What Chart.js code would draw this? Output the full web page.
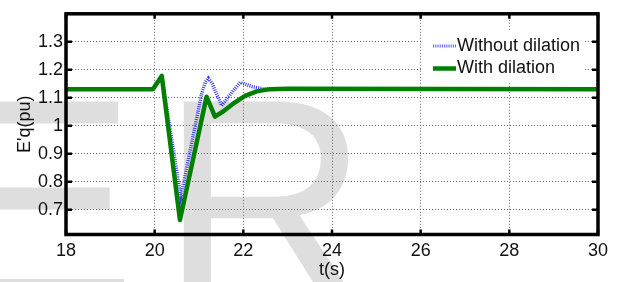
<!DOCTYPE html>
<html>
<head>
<meta charset="utf-8">
<script src="https://cdn.jsdelivr.net/npm/chart.js@4.4.1/dist/chart.umd.min.js"></script>
<style>
  html, body { margin: 0; padding: 0; background: #fff; }
  canvas { display: block; }
</style>
</head>
<body>
<canvas id="chart" width="623" height="282"></canvas>
<script>
// values
const t_without = [18, 19.96, 20.16, 20.59, 21.06, 21.14, 21.21, 21.3, 21.51, 21.72, 21.93, 22.2, 22.45, 23, 30];
const e_without = [1.131, 1.131, 1.178, 0.746, 1.115, 1.155, 1.17, 1.15, 1.072, 1.115, 1.155, 1.14, 1.132, 1.131, 1.131];

const t_with = [18, 19.96, 20.16, 20.57, 21.17, 21.36, 21.55, 21.77, 22.04, 22.3, 22.6, 23, 30];
const e_with = [1.131, 1.131, 1.178, 0.664, 1.104, 1.033, 1.052, 1.079, 1.107, 1.123, 1.131, 1.132, 1.131];

const x_ticks = [18, 20, 22, 24, 26, 28, 30];
const y_ticks = [0.7, 0.8, 0.9, 1.0, 1.1, 1.2, 1.3];
const labels = ["Without dilation", "With dilation"];

const FONT = "'Liberation Sans', Arial, sans-serif";

const to_points = (ts, vs) => ts.map((t, i) => ({ x: t, y: vs[i] }));

const watermark = {
    id: "watermark",
    beforeDraw(chart) {
        const ctx = chart.ctx;
        ctx.save();
        ctx.fillStyle = "#dedede";
        ctx.font = "290px " + FONT;
        ctx.textBaseline = "alphabetic";
        ctx.fillText("E", -57, 301);
        ctx.fillText("R", 160, 301);
        ctx.restore();
    },
};

const frame = {
    id: "frame",
    afterDraw(chart) {
        const ctx = chart.ctx;
        const a = chart.chartArea;
        const xs = chart.scales.x, ys = chart.scales.y;
        ctx.save();

        // legend box
        ctx.fillStyle = "#fff";
        ctx.fillRect(422, 30, 161, 52);
        ctx.lineCap = "butt";
        ctx.strokeStyle = "#7070ff";
        ctx.lineWidth = 3;
        ctx.setLineDash([1.2, 1]);
        ctx.beginPath();
        ctx.moveTo(433, 46);
        ctx.lineTo(456, 46);
        ctx.stroke();
        ctx.setLineDash([]);
        ctx.strokeStyle = "#007f00";
        ctx.lineWidth = 4.5;
        ctx.beginPath();
        ctx.moveTo(433, 68.5);
        ctx.lineTo(456, 68.5);
        ctx.stroke();
        ctx.fillStyle = "#111";
        ctx.font = "18px " + FONT;
        ctx.textBaseline = "middle";
        ctx.fillText(labels[0], 457, 46);
        ctx.fillText(labels[1], 457, 68.5);

        // inward ticks
        ctx.strokeStyle = "#000";
        ctx.lineWidth = 2.5;
        ctx.beginPath();
        x_ticks.forEach((v) => {
            const px = xs.getPixelForValue(v);
            ctx.moveTo(px, a.bottom); ctx.lineTo(px, a.bottom - 5);
            ctx.moveTo(px, a.top); ctx.lineTo(px, a.top + 5);
        });
        y_ticks.forEach((v) => {
            const py = ys.getPixelForValue(v);
            ctx.moveTo(a.left, py); ctx.lineTo(a.left + 6, py);
            ctx.moveTo(a.right, py); ctx.lineTo(a.right - 6, py);
        });
        ctx.stroke();

        // axes box
        ctx.lineWidth = 3.5;
        ctx.strokeRect(a.left, a.top, a.right - a.left, a.bottom - a.top);
        ctx.restore();
    },
};

const grid = {
    color: "#666",
    lineWidth: 1,
    drawTicks: false,
};

new Chart(document.getElementById("chart"), {
    type: "line",
    data: {
        datasets: [
            {
                label: labels[0],
                data: to_points(t_without, e_without),
                borderColor: "rgba(20,20,255,0.85)",
                borderWidth: 3.5,
                borderDash: [1, 1.2],
                pointRadius: 0,
                tension: 0,
                order: 2,
            },
            {
                label: labels[1],
                data: to_points(t_with, e_with),
                borderColor: "#007f00",
                borderWidth: 4.5,
                borderJoinStyle: "round",
                pointRadius: 0,
                tension: 0,
                order: 1,
            },
        ],
    },
    options: {
        responsive: false,
        devicePixelRatio: 1,
        animation: false,
        events: [],
        layout: { padding: { left: 0, right: 25, top: 12.5, bottom: 0 } },
        plugins: { legend: { display: false }, tooltip: { enabled: false } },
        scales: {
            x: {
                type: "linear",
                min: 18,
                max: 30,
                afterBuildTicks: (s) => { s.ticks = x_ticks.map((v) => ({ value: v })); },
                afterFit: (s) => { s.height = 47.5; },
                border: { display: false, dash: [1, 2] },
                grid: grid,
                ticks: {
                    padding: 6,
                    color: "#111",
                    font: { family: FONT, size: 18 },
                    maxRotation: 0,
                    callback: (v) => String(v),
                },
                title: {
                    display: true,
                    text: "t(s)",
                    color: "#111",
                    font: { family: FONT, size: 18 },
                    padding: { top: 0, bottom: 1 },
                },
            },
            y: {
                type: "linear",
                min: 0.612,
                max: 1.4,
                afterBuildTicks: (s) => { s.ticks = y_ticks.map((v) => ({ value: v })); },
                afterFit: (s) => { s.width = 66; },
                border: { display: false, dash: [1, 2] },
                grid: grid,
                ticks: {
                    padding: 3,
                    color: "#111",
                    font: { family: FONT, size: 18 },
                    callback: (v) => String(+v.toFixed(1)),
                },
                title: {
                    display: true,
                    text: "E'q(pu)",
                    color: "#111",
                    font: { family: FONT, size: 18 },
                    padding: { top: 14.5, bottom: 0 },
                },
            },
        },
    },
    plugins: [watermark, frame],
});
</script>
</body>
</html>
